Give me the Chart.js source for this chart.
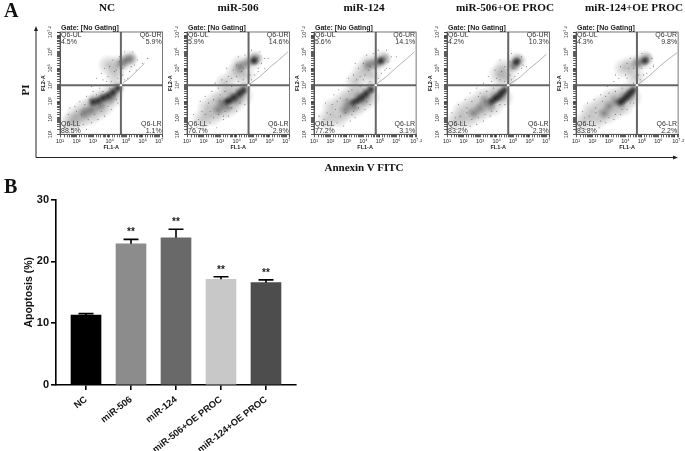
<!DOCTYPE html>
<html>
<head>
<meta charset="utf-8">
<title>Apoptosis</title>
<script src="https://cdn.jsdelivr.net/npm/chart.js@4"></script>
<style>
    html, body { margin: 0; padding: 0; background: #fff; }
    #fig { position: relative; width: 685px; height: 451px; overflow: hidden; filter: blur(0.4px); }
    #fig canvas { position: absolute; }
    #arrows { position: absolute; left: 0; top: 0; }
    .serif { position: absolute; font-family: "Liberation Serif", serif; font-weight: bold; color: #111; white-space: nowrap; line-height: 1; }
    .title { font-size: 11.2px; top: 2px; transform: translateX(-50%); }
</style>
</head>
<body>
<div id="fig">
    <svg id="arrows" width="685" height="451">
        <path d="M36 157.5 H674 M36 157.5 V30" stroke="#222" stroke-width="1" fill="none"/>
        <path d="M36 26 L34 31 L38 31 Z M678 157.5 L673 155.5 L673 159.5 Z" fill="#222"/>
    </svg>
    <div class="serif" style="left:4px;top:0;font-size:20px">A</div>
    <div class="serif" style="left:4px;top:176px;font-size:20px">B</div>
    <div class="serif" style="left:25px;top:90px;font-size:11px;transform:translate(-50%,-50%) rotate(-90deg)">PI</div>
    <div class="serif" style="left:364px;top:162px;font-size:11px;transform:translateX(-50%)">Annexin V FITC</div>
</div>

<script>
// BAR CHART DATA (PANEL B)
const categories = ["NC", "miR-506", "miR-124", "miR-506+OE PROC", "miR-124+OE PROC"];
const apoptosis = [11.3, 22.85, 23.8, 17.1, 16.55];
const errorTops = [11.55, 23.55, 25.2, 17.5, 17.0];
const significance = ["", "**", "**", "**", "**"];
const barColors = ["#000000", "#8c8c8c", "#696969", "#c8c8c8", "#4d4d4d"];

// FLOW PANELS (PANEL A), ALL COORDINATES ARE LOG10 DECADES
const panelTitles = ["NC", "miR-506", "miR-124", "miR-506+OE PROC", "miR-124+OE PROC"];
const titleCenters = [107, 238, 364, 505, 634];
const plotLefts = [60, 187, 314, 447, 576];
const percentUL = ["4.5%", "5.9%", "5.6%", "4.2%", "4.3%"];
const percentUR = ["5.9%", "14.6%", "14.1%", "10.3%", "9.8%"];
const percentLL = ["88.5%", "76.7%", "77.2%", "83.2%", "83.8%"];
const percentLR = ["1.1%", "2.9%", "3.1%", "2.3%", "2.2%"];
const gateX = [4.68, 4.72, 4.75, 4.7, 4.7];
const gateY = [3.98, 3.98, 3.98, 3.98, 3.98];
const lastXTick = [7, 7, 7.2, 7, 7.2];

const halo = [
    [[1.6,1.7],[1.9,2.1],[2.2,1.9],[2.4,2.5],[2.8,2.1],[2.9,2.8],[3.3,2.4],[3.3,3.1],[3.7,2.7],[3.8,3.3],[4.2,3.2],[4.3,3.7],[3.9,5.2],[4.5,5.2],[5.1,5.5],[4.3,4.6]],
    [[1.9,1.9],[2.2,2.6],[2.5,2.1],[2.7,3.0],[3.0,2.4],[3.2,3.3],[3.5,2.6],[3.7,3.5],[3.9,2.9],[4.2,3.6],[4.4,3.3],[3.3,4.1],[3.9,4.7],[4.2,5.2],[5.0,5.5],[4.5,4.6]],
    [[1.8,1.9],[2.1,2.6],[2.5,2.0],[2.7,3.0],[3.0,2.4],[3.2,3.4],[3.5,2.6],[3.7,3.5],[3.9,2.9],[4.2,3.6],[4.4,3.2],[3.5,4.2],[3.9,4.8],[4.3,5.3],[5.0,5.5],[4.5,4.6]],
    [[1.5,1.8],[1.9,2.4],[2.2,1.9],[2.5,2.8],[2.8,2.2],[3.1,3.2],[3.3,2.5],[3.7,3.4],[3.8,2.7],[4.2,3.6],[4.4,3.2],[4.1,4.6],[4.4,5.0],[5.2,5.4],[4.6,4.4]],
    [[1.5,1.8],[1.9,2.4],[2.3,1.9],[2.5,2.8],[2.9,2.2],[3.1,3.2],[3.4,2.5],[3.7,3.4],[3.9,2.7],[4.2,3.6],[4.4,3.2],[3.9,5.0],[4.4,5.2],[5.1,5.5],[4.6,4.5]]
];
const mid = [
    [[2.5,2.3],[2.9,2.5],[3.0,3.0],[3.4,2.8],[3.6,3.2],[4.0,3.2],[4.2,3.5],[4.5,3.8],[5.0,5.5],[5.3,5.6],[4.7,5.3]],
    [[2.9,2.5],[3.1,2.9],[3.4,2.7],[3.7,3.2],[4.0,3.1],[4.2,3.5],[4.5,3.8],[5.0,5.5],[5.2,5.6],[4.6,5.3],[4.2,5.1]],
    [[2.9,2.5],[3.1,2.9],[3.4,2.7],[3.7,3.2],[4.0,3.1],[4.2,3.5],[4.5,3.8],[5.0,5.4],[5.3,5.6],[4.7,5.3],[4.3,5.2]],
    [[2.6,2.3],[3.0,2.6],[3.3,3.0],[3.6,2.8],[3.9,3.2],[4.2,3.3],[4.4,3.6],[5.1,5.3],[5.3,5.5],[5.0,5.1]],
    [[2.7,2.3],[3.0,2.7],[3.4,3.0],[3.7,2.9],[3.9,3.2],[4.2,3.3],[4.4,3.6],[5.0,5.4],[5.3,5.6],[4.7,5.3]]
];
const core = [
    [[3.0,2.95],[3.3,3.05],[3.6,3.2],[3.9,3.35],[4.2,3.55],[4.5,3.8]],
    [[3.4,3.0],[3.6,3.05],[3.85,3.25],[4.15,3.45],[4.4,3.65],[5.05,5.45]],
    [[3.4,2.95],[3.65,3.05],[3.9,3.25],[4.15,3.45],[4.45,3.7],[5.05,5.45]],
    [[3.7,3.0],[3.9,3.15],[4.1,3.3],[4.3,3.5],[4.5,3.7],[5.2,5.4]],
    [[3.7,2.95],[3.9,3.1],[4.1,3.3],[4.3,3.5],[4.5,3.7],[5.2,5.45]]
];
const speckle = [
    [[1.3,1.5],[1.5,2.2],[1.7,1.3],[1.9,2.7],[2.1,1.4],[2.2,3.0],[2.4,1.6],[2.6,3.3],[2.9,1.7],[3.0,3.6],[3.3,1.9],[3.4,3.8],[3.7,2.1],[3.6,4.3],[4.1,2.5],[3.9,4.5],[4.5,2.9],[3.2,4.4],[4.1,4.2],[4.5,4.4],[3.7,5.0],[4.2,5.5],[4.6,5.7],[5.5,5.2],[5.7,5.5],[5.2,4.8],[4.9,4.3],[5.1,4.4],[5.6,4.9],[6.0,5.3],[6.3,5.6],[5.4,6.0],[4.9,6.0],[4.4,4.9],[3.5,4.7],[2.9,3.9],[1.6,2.6],[2.6,1.3],
     [1.8,1.8],[2.0,2.4],[2.3,2.2],[2.5,2.8],[2.7,1.9],[2.8,3.1],[3.1,2.2],[3.2,3.4],[3.5,2.4],[3.6,3.6],[3.9,2.7],[4.0,3.8],[4.4,3.1],[3.8,4.2],[4.3,4.8],[4.8,5.0],[4.0,5.1],[4.6,5.4],[5.3,5.1],[4.8,4.6]],
    [[1.4,2.2],[1.6,1.4],[1.8,3.0],[2.0,1.5],[2.1,3.3],[2.4,1.7],[2.5,3.6],[2.8,1.4],[2.9,3.8],[3.2,1.9],[3.1,4.3],[3.5,2.1],[3.5,4.5],[4.0,2.4],[3.8,4.9],[4.5,2.8],[2.7,4.1],[4.1,4.2],[4.4,4.3],[3.4,5.0],[4.1,5.7],[4.5,5.8],[5.5,5.3],[5.7,5.6],[5.3,4.8],[4.9,4.3],[5.1,4.6],[5.7,5.0],[5.9,5.6],[5.4,6.0],[4.9,6.1],[4.3,4.8],[3.0,3.4],[2.3,2.9],[3.2,2.1],[1.9,2.4],
     [1.7,1.9],[2.1,2.2],[2.4,2.4],[2.6,2.0],[2.6,3.1],[2.9,2.2],[3.0,3.0],[3.3,2.4],[3.3,3.6],[3.7,2.6],[3.7,3.9],[4.2,2.9],[3.4,4.2],[4.0,4.5],[3.7,4.4],[4.4,5.0],[4.0,5.2],[4.7,5.0],[5.3,5.0],[4.8,4.6]],
    [[1.3,2.1],[1.6,1.5],[1.7,2.9],[2.0,1.4],[2.2,3.4],[2.4,1.7],[2.5,3.7],[2.8,1.5],[2.8,4.0],[3.2,1.8],[3.1,4.4],[3.5,2.0],[3.4,4.6],[4.1,2.5],[3.7,5.0],[4.4,2.8],[2.6,3.2],[4.0,4.3],[4.4,4.2],[3.5,5.3],[4.2,5.8],[4.6,5.9],[5.5,5.4],[5.7,5.7],[5.3,4.9],[4.9,4.4],[5.1,4.7],[5.6,5.0],[6.0,5.7],[5.4,6.1],[4.9,6.1],[4.3,4.9],[3.1,3.6],[2.1,2.8],[3.3,2.2],[1.8,2.3],
     [1.6,1.9],[2.0,2.2],[2.3,2.5],[2.6,2.1],[2.4,3.0],[2.9,2.3],[3.0,3.1],[3.4,2.4],[3.3,3.7],[3.7,2.6],[3.8,3.9],[4.2,3.0],[3.6,4.3],[4.1,4.6],[3.8,4.5],[4.4,5.1],[4.0,5.3],[4.7,5.0],[5.4,5.0],[4.8,4.7]],
    [[1.2,1.5],[1.3,2.3],[1.6,1.3],[1.7,2.8],[2.0,1.4],[2.1,3.1],[2.4,1.5],[2.4,3.5],[2.8,1.6],[2.8,3.8],[3.2,1.8],[3.2,4.1],[3.6,2.1],[3.5,4.5],[4.0,2.4],[3.9,4.9],[4.5,2.8],[4.2,4.3],[4.5,4.2],[4.2,5.5],[4.7,5.6],[4.9,5.9],[5.5,5.7],[5.6,5.2],[5.3,4.7],[4.9,4.3],[5.1,4.5],[5.8,5.1],[4.7,4.9],[3.7,4.2],[2.2,2.6],[3.0,3.5],[1.8,2.1],
     [1.5,2.0],[1.9,1.7],[2.2,2.3],[2.5,1.9],[2.5,3.0],[2.9,2.0],[2.9,3.3],[3.3,2.2],[3.4,3.6],[3.7,2.4],[3.8,3.8],[4.2,2.8],[3.5,4.0],[4.0,4.4],[4.3,4.8],[4.5,5.1],[4.8,5.4],[5.0,5.0],[5.5,5.0],[4.8,4.6]],
    [[1.2,1.6],[1.4,2.4],[1.6,1.3],[1.7,2.9],[2.0,1.5],[2.1,3.1],[2.4,1.4],[2.5,3.4],[2.8,1.7],[2.9,3.9],[3.3,1.9],[3.3,4.2],[3.7,2.2],[3.4,4.6],[4.1,2.5],[3.7,5.1],[4.5,2.9],[4.1,4.4],[4.5,4.1],[4.3,5.6],[4.7,5.7],[5.0,5.9],[5.6,5.6],[5.7,5.2],[5.3,4.7],[4.9,4.3],[5.1,4.6],[5.7,5.1],[4.7,4.9],[3.6,4.4],[2.2,2.6],[3.0,3.5],[1.8,2.1],
     [1.5,2.0],[1.9,1.8],[2.2,2.3],[2.5,1.8],[2.6,3.0],[3.0,2.0],[2.8,3.3],[3.4,2.2],[3.4,3.6],[3.8,2.5],[3.8,3.8],[4.3,2.9],[3.5,4.0],[4.0,4.6],[4.2,5.0],[4.5,5.0],[4.1,5.3],[5.0,5.0],[5.5,5.0],[4.8,4.6]]
];
const streak = [
    [[4.8,4.1],[5.2,4.4],[5.7,4.9],[6.1,5.3]],
    [[4.8,4.05],[5.4,4.5],[6.0,5.05],[6.6,5.55],[7.1,6.0]],
    [[4.8,4.05],[5.4,4.5],[6.0,5.05],[6.6,5.55],[7.1,6.0]],
    [[4.8,4.05],[5.4,4.45],[6.0,5.0],[6.5,5.4],[7.0,5.85]],
    [[4.8,4.05],[5.4,4.5],[6.0,5.05],[6.6,5.55],[7.15,5.95]]
];

// TICKS OF THE LOG AXES
const superscripts = { 1: "¹", 2: "²", 3: "³", 4: "⁴", 5: "⁵", 6: "⁶", 7: "⁷" };
const axisMin = 10;
const axisMax = Math.pow(10, 7.2);

function toPoints(pairs) {
    return pairs.map(([x, y]) => ({ x: Math.pow(10, x), y: Math.pow(10, y) }));
}

function addCanvas(left, top, width, height) {
    const canvas = document.createElement("canvas");
    canvas.width = width;
    canvas.height = height;
    canvas.style.left = left + "px";
    canvas.style.top = top + "px";
    canvas.style.width = width + "px";
    canvas.style.height = height + "px";
    document.getElementById("fig").appendChild(canvas);
    return canvas.getContext("2d");
}

// SOFT ROUND POINT, USED AS POINT STYLE FOR THE DENSITY CLOUDS
function softDot(radius, shade, alpha) {
    const dot = document.createElement("canvas");
    dot.width = dot.height = radius * 2;
    const c = dot.getContext("2d");
    const grad = c.createRadialGradient(radius, radius, 0, radius, radius, radius);
    grad.addColorStop(0, `rgba(${shade},${shade},${shade},${alpha})`);
    grad.addColorStop(0.5, `rgba(${shade},${shade},${shade},${alpha * 0.5})`);
    grad.addColorStop(1, `rgba(${shade},${shade},${shade},0)`);
    c.fillStyle = grad;
    c.fillRect(0, 0, radius * 2, radius * 2);
    return dot;
}

const haloDot = softDot(11, 80, 0.32);
const midDot = softDot(7, 50, 0.45);
const coreDot = softDot(5, 0, 0.65);

function cloudSet(pairs, dot) {
    return { data: toPoints(pairs), pointStyle: dot, pointRadius: 5, pointBorderWidth: 0, showLine: false };
}

function dotSet(pairs, radius, color) {
    return { data: toPoints(pairs), pointRadius: radius, pointBackgroundColor: color, pointBorderWidth: 0, showLine: false };
}

function lineSet(pairs, width, color) {
    return { data: toPoints(pairs), pointRadius: 0, borderColor: color, borderWidth: width, showLine: true };
}

// FRAME AND TEXT INSIDE ONE FLOW PANEL
function panelLabels(i) {
    return {
        id: "panelLabels",
        afterDraw(chart) {
            const { ctx, chartArea: a } = chart;
            ctx.save();
            ctx.strokeStyle = "#555";
            ctx.lineWidth = 0.8;
            ctx.strokeRect(a.left, a.top, a.right - a.left, a.bottom - a.top);
            ctx.textBaseline = "middle";
            ctx.fillStyle = "#222";
            ctx.textAlign = "left";
            ctx.font = "bold 7px 'Liberation Sans'";
            ctx.fillText("Gate: [No Gating]", a.left + 1, a.top - 4);
            ctx.fillStyle = "#333";
            ctx.font = "7px 'Liberation Sans'";
            ctx.fillText("Q6-UL", a.left + 1, a.top + 3);
            ctx.fillText(percentUL[i], a.left + 1, a.top + 10);
            ctx.fillText("Q6-LL", a.left + 1, a.bottom - 10.5);
            ctx.fillText(percentLL[i], a.left + 1, a.bottom - 3);
            ctx.textAlign = "right";
            ctx.fillText("Q6-UR", a.right - 1, a.top + 3);
            ctx.fillText(percentUR[i], a.right - 1, a.top + 10);
            ctx.fillText("Q6-LR", a.right - 1, a.bottom - 10.5);
            ctx.fillText(percentLR[i], a.right - 1, a.bottom - 3);
            ctx.restore();
        }
    };
}

function logAxis(axis, last) {
    const isX = axis === "x";
    return {
        type: "logarithmic",
        min: axisMin,
        max: axisMax,
        position: isX ? "bottom" : "left",
        border: { display: true, color: "#555", width: 1 },
        grid: { drawOnChartArea: false, tickLength: 3, tickColor: "#333", lineWidth: 0.8 },
        title: {
            display: true,
            text: isX ? "FL1-A" : "FL2-A",
            color: "#222",
            font: { family: "'Liberation Sans'", size: 5.5, weight: "bold" },
            padding: isX ? { top: 0, bottom: 6 } : { top: 2, bottom: 0 }
        },
        ticks: {
            autoSkip: false,
            color: "#222",
            padding: 1,
            font: { family: "'Liberation Sans'", size: 5.5 },
            minRotation: isX ? 0 : 90,
            maxRotation: isX ? 0 : 90,
            crossAlign: isX ? "near" : "center",
            callback(value) {
                const exp = Math.log10(value);
                if (Math.abs(exp - 7.2) < 0.001) return last === 7.2 ? "10⁷·²" : "";
                const rounded = Math.round(exp);
                if (Math.abs(exp - rounded) > 0.001) return "";
                if (rounded === 7 && last === 7.2) return "";
                return "10" + superscripts[rounded];
            }
        },
        afterFit(scale) {
            if (isX) scale.height = 22.7;
            else scale.width = 22;
        }
    };
}

function drawFlowPanel(i) {
    const ctx = addCanvas(plotLefts[i] - 22, 22, 131, 135);
    const g = [gateX[i], gateY[i]];
    new Chart(ctx, {
        type: "scatter",
        data: {
            datasets: [
                dotSet([g], 1.2, "#ffffff"),
                lineSet([[g[0], 1], [g[0], 7.2]], 2, "#666666"),
                lineSet([[1, g[1]], [7.2, g[1]]], 2, "#666666"),
                dotSet(speckle[i], 0.55, "rgba(40,40,40,0.6)"),
                cloudSet(core[i], coreDot),
                cloudSet(mid[i], midDot),
                cloudSet(halo[i], haloDot),
                lineSet(streak[i], 1, "rgba(130,130,130,0.6)")
            ]
        },
        options: {
            responsive: false,
            animation: false,
            layout: { padding: { top: 10, right: 6.4 } },
            plugins: { legend: { display: false }, tooltip: { enabled: false } },
            scales: { x: logAxis("x", lastXTick[i]), y: logAxis("y", 7.2) }
        },
        plugins: [panelLabels(i)]
    });
}

// ERROR BARS AND STARS OF THE BAR CHART
const errorBars = {
    id: "errorBars",
    afterDatasetsDraw(chart) {
        const { ctx, scales: { x, y } } = chart;
        ctx.save();
        ctx.strokeStyle = "#000";
        ctx.fillStyle = "#222";
        ctx.lineWidth = 1.6;
        ctx.textAlign = "center";
        ctx.textBaseline = "bottom";
        ctx.font = "bold 10px 'Liberation Sans'";
        apoptosis.forEach((value, i) => {
            const px = x.getPixelForValue(i);
            const top = y.getPixelForValue(errorTops[i]);
            ctx.beginPath();
            ctx.moveTo(px, y.getPixelForValue(value));
            ctx.lineTo(px, top);
            ctx.moveTo(px - 7.5, top);
            ctx.lineTo(px + 7.5, top);
            ctx.stroke();
            ctx.fillText(significance[i], px, top - 2);
        });
        ctx.restore();
    }
};

function drawBarChart() {
    const ctx = addCanvas(0, 175, 320, 276);
    new Chart(ctx, {
        type: "bar",
        data: {
            datasets: [{
                data: apoptosis.map((value, i) => ({ x: i, y: value })),
                backgroundColor: barColors,
                barThickness: 30
            }]
        },
        options: {
            responsive: false,
            animation: false,
            layout: { padding: { top: 24.5, right: 24 } },
            plugins: { legend: { display: false }, tooltip: { enabled: false } },
            scales: {
                x: {
                    type: "linear",
                    offset: false,
                    min: -0.667,
                    max: 4.667,
                    border: { color: "#000", width: 1.6 },
                    grid: { offset: false, drawOnChartArea: false, tickLength: 5, tickColor: "#000", lineWidth: 1.6 },
                    afterBuildTicks(scale) {
                        scale.ticks = categories.map((c, i) => ({ value: i }));
                    },
                    afterFit(scale) { scale.height = 66; },
                    ticks: {
                        autoSkip: false,
                        color: "#111",
                        padding: 4,
                        minRotation: 38,
                        maxRotation: 38,
                        font: { family: "'Liberation Sans'", size: 9.4, weight: "bold" },
                        callback: value => categories[value]
                    }
                },
                y: {
                    min: 0,
                    max: 30,
                    border: { color: "#000", width: 1.6 },
                    grid: { drawOnChartArea: false, tickLength: 5, tickColor: "#000", lineWidth: 1.6 },
                    afterFit(scale) { scale.width = 56; },
                    title: {
                        display: true,
                        text: "Apoptosis (%)",
                        color: "#111",
                        font: { family: "'Liberation Sans'", size: 10.5, weight: "bold" },
                        padding: { top: 23, bottom: 0 }
                    },
                    ticks: {
                        stepSize: 10,
                        color: "#111",
                        padding: 2,
                        font: { family: "'Liberation Sans'", size: 11, weight: "bold" }
                    }
                }
            }
        },
        plugins: [errorBars]
    });
}

// PANEL TITLES AS PLAIN TEXT
panelTitles.forEach((text, i) => {
    const div = document.createElement("div");
    div.className = "serif title";
    div.style.left = titleCenters[i] + "px";
    div.innerText = text;
    document.getElementById("fig").appendChild(div);
});

panelTitles.forEach((text, i) => drawFlowPanel(i));
drawBarChart();
</script>
</body>
</html>
